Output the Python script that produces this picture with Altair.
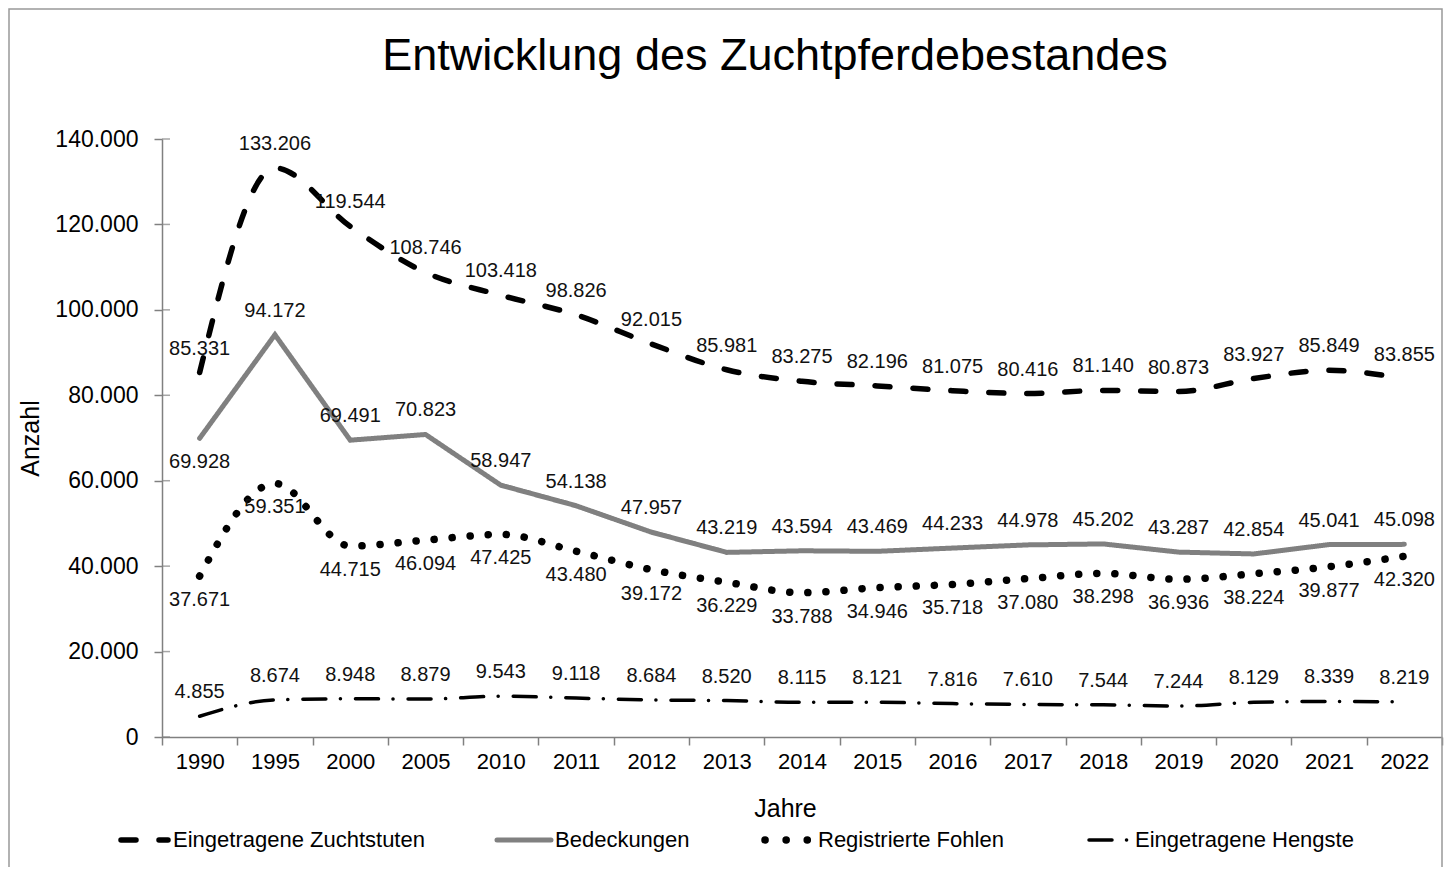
import altair as alt
import pandas as pd

YEARS = ["1990", "1995", "2000", "2005", "2010", "2011", "2012", "2013", "2014",
         "2015", "2016", "2017", "2018", "2019", "2020", "2021", "2022"]

SERIES = ["Eingetragene Zuchtstuten", "Bedeckungen", "Registrierte Fohlen", "Eingetragene Hengste"]

STUTEN = [85331, 133206, 119544, 108746, 103418, 98826, 92015, 85981, 83275,
          82196, 81075, 80416, 81140, 80873, 83927, 85849, 83855]
BEDECKUNGEN = [69928, 94172, 69491, 70823, 58947, 54138, 47957, 43219, 43594,
               43469, 44233, 44978, 45202, 43287, 42854, 45041, 45098]
FOHLEN = [37671, 59351, 44715, 46094, 47425, 43480, 39172, 36229, 33788,
          34946, 35718, 37080, 38298, 36936, 38224, 39877, 42320]
HENGSTE = [4855, 8674, 8948, 8879, 9543, 9118, 8684, 8520, 8115,
           8121, 7816, 7610, 7544, 7244, 8129, 8339, 8219]

# label placement (oben = above the point, unten = below)
LAGE_STUTEN = ["oben"] * 17
LAGE_BEDECKUNGEN = ["unten"] + ["oben"] * 16
LAGE_FOHLEN = ["unten"] * 17
LAGE_HENGSTE = ["oben"] * 17

Y_TICKS = [0, 20000, 40000, 60000, 80000, 100000, 120000, 140000]

TITLE = "Entwicklung des Zuchtpferdebestandes"

rows = []
for name, vals, lage in zip(SERIES, [STUTEN, BEDECKUNGEN, FOHLEN, HENGSTE],
                            [LAGE_STUTEN, LAGE_BEDECKUNGEN, LAGE_FOHLEN, LAGE_HENGSTE]):
    for j, v, l in zip(YEARS, vals, lage):
        rows.append({"Jahr": j, "Serie": name, "Wert": v,
                     "Label": f"{v:,}".replace(",", "."), "Lage": l})
df = pd.DataFrame(rows)

FONT = "Liberation Sans"
W, H = 1280, 598

STYLE = {
    "Eingetragene Zuchtstuten": dict(color="#000000", dash=[15, 23], width=5.5, interp="monotone"),
    "Bedeckungen": dict(color="#808080", dash=[1, 0], width=5, interp="linear"),
    "Registrierte Fohlen": dict(color="#000000", dash=[0.1, 18], width=7.5, interp="monotone"),
    "Eingetragene Hengste": dict(color="#000000", dash=[23, 14.5, 0.1, 15], width=3.5, interp="monotone"),
}
# legend layout (pixels relative to plot area)
LEG = {
    "Eingetragene Zuchtstuten": dict(x1=-41, x2=6, tx=11, dash=[15, 23]),
    "Bedeckungen": dict(x1=335, x2=389, tx=393, dash=[1, 0]),
    "Registrierte Fohlen": dict(x1=603, x2=648, tx=656, dash=[0.1, 21]),
    "Eingetragene Hengste": dict(x1=927, x2=966, tx=973, dash=[23, 14.5, 0.1, 15]),
}
LEG_Y = 701

x_enc = alt.X("Jahr:N", sort=YEARS, bandPosition=0.5,
              scale=alt.Scale(type="band", paddingInner=0, paddingOuter=0),
              axis=alt.Axis(title="Jahre", labelAngle=0, tickBand="extent",
                            labelFontSize=22, labelPadding=6, tickSize=8,
                            titleFontSize=25, titleFontWeight="normal",
                            titleX=623, titleY=71, titleBaseline="middle",
                            titleAlign="center"))
y_enc = alt.Y("Wert:Q", scale=alt.Scale(domain=[0, 140000], nice=False),
              axis=alt.Axis(title="Anzahl", values=Y_TICKS, grid=False,
                            labelExpr="replace(format(datum.value, ','), ',', '.')",
                            labelFontSize=23, labelPadding=16, tickSize=8,
                            titleFontSize=25, titleFontWeight="normal",
                            titleX=-132, titleY=H / 2, titleAngle=-90,
                            titleBaseline="middle", titleAlign="center"))

base = alt.Chart(df)
one = alt.Chart(pd.DataFrame({"r": [0]}))
layers = []

frame = one.mark_rect(fill=None, stroke="#999999", strokeWidth=1.5).encode(
    x=alt.value(-153), x2=alt.value(W), y=alt.value(-130), y2=alt.value(900))
layers.append(frame)

layers.append(one.mark_text(text=TITLE, fontSize=45, font=FONT, color="#000000",
                            align="center", baseline="middle").encode(
    x=alt.value(613), y=alt.value(-83)))

# y-axis ticks crossing the axis line (inner half)
layers.append(alt.Chart(pd.DataFrame({"Wert": Y_TICKS})).mark_tick(
    orient="horizontal", size=8, thickness=1.5, color="#808080", xOffset=4).encode(
    y=alt.Y("Wert:Q"), x=alt.value(0)))

for s in SERIES:
    st = STYLE[s]
    layers.append(
        base.transform_filter(alt.datum.Serie == s).mark_line(
            interpolate=st["interp"], strokeCap="round", color=st["color"],
            strokeDash=st["dash"], strokeWidth=st["width"]).encode(x=x_enc, y=y_enc)
    )

layers.append(base.transform_filter(alt.datum.Lage == "oben").mark_text(
    dy=-24, baseline="middle", fontSize=20, font=FONT, color="#111111").encode(
    x=x_enc, y=y_enc, text="Label:N"))
layers.append(base.transform_filter(alt.datum.Lage == "unten").mark_text(
    dy=24, baseline="middle", fontSize=20, font=FONT, color="#111111").encode(
    x=x_enc, y=y_enc, text="Label:N"))

# legend drawn below the axis
for s in SERIES:
    st, lg = STYLE[s], LEG[s]
    layers.append(one.mark_rule(strokeCap="round", color=st["color"],
                                strokeDash=lg["dash"], strokeWidth=st["width"]).encode(
        x=alt.value(lg["x1"]), x2=alt.value(lg["x2"]), y=alt.value(LEG_Y)))
    layers.append(one.mark_text(align="left", baseline="middle", fontSize=22,
                                font=FONT, color="#000000", text=s).encode(
        x=alt.value(lg["tx"]), y=alt.value(LEG_Y)))

chart = alt.layer(*layers).properties(
    width=W, height=H,
    autosize=alt.AutoSizeParams(type="none"),
    padding={"left": 154, "top": 131, "right": 3, "bottom": 130},
).configure_view(stroke=None).configure_axis(
    domainColor="#808080", tickColor="#808080", domainWidth=1.5, tickWidth=1.5,
    labelFont=FONT, titleFont=FONT, labelColor="#000000", titleColor="#000000",
)

chart.save("out.html", embed_options={"renderer": "svg", "actions": False})
